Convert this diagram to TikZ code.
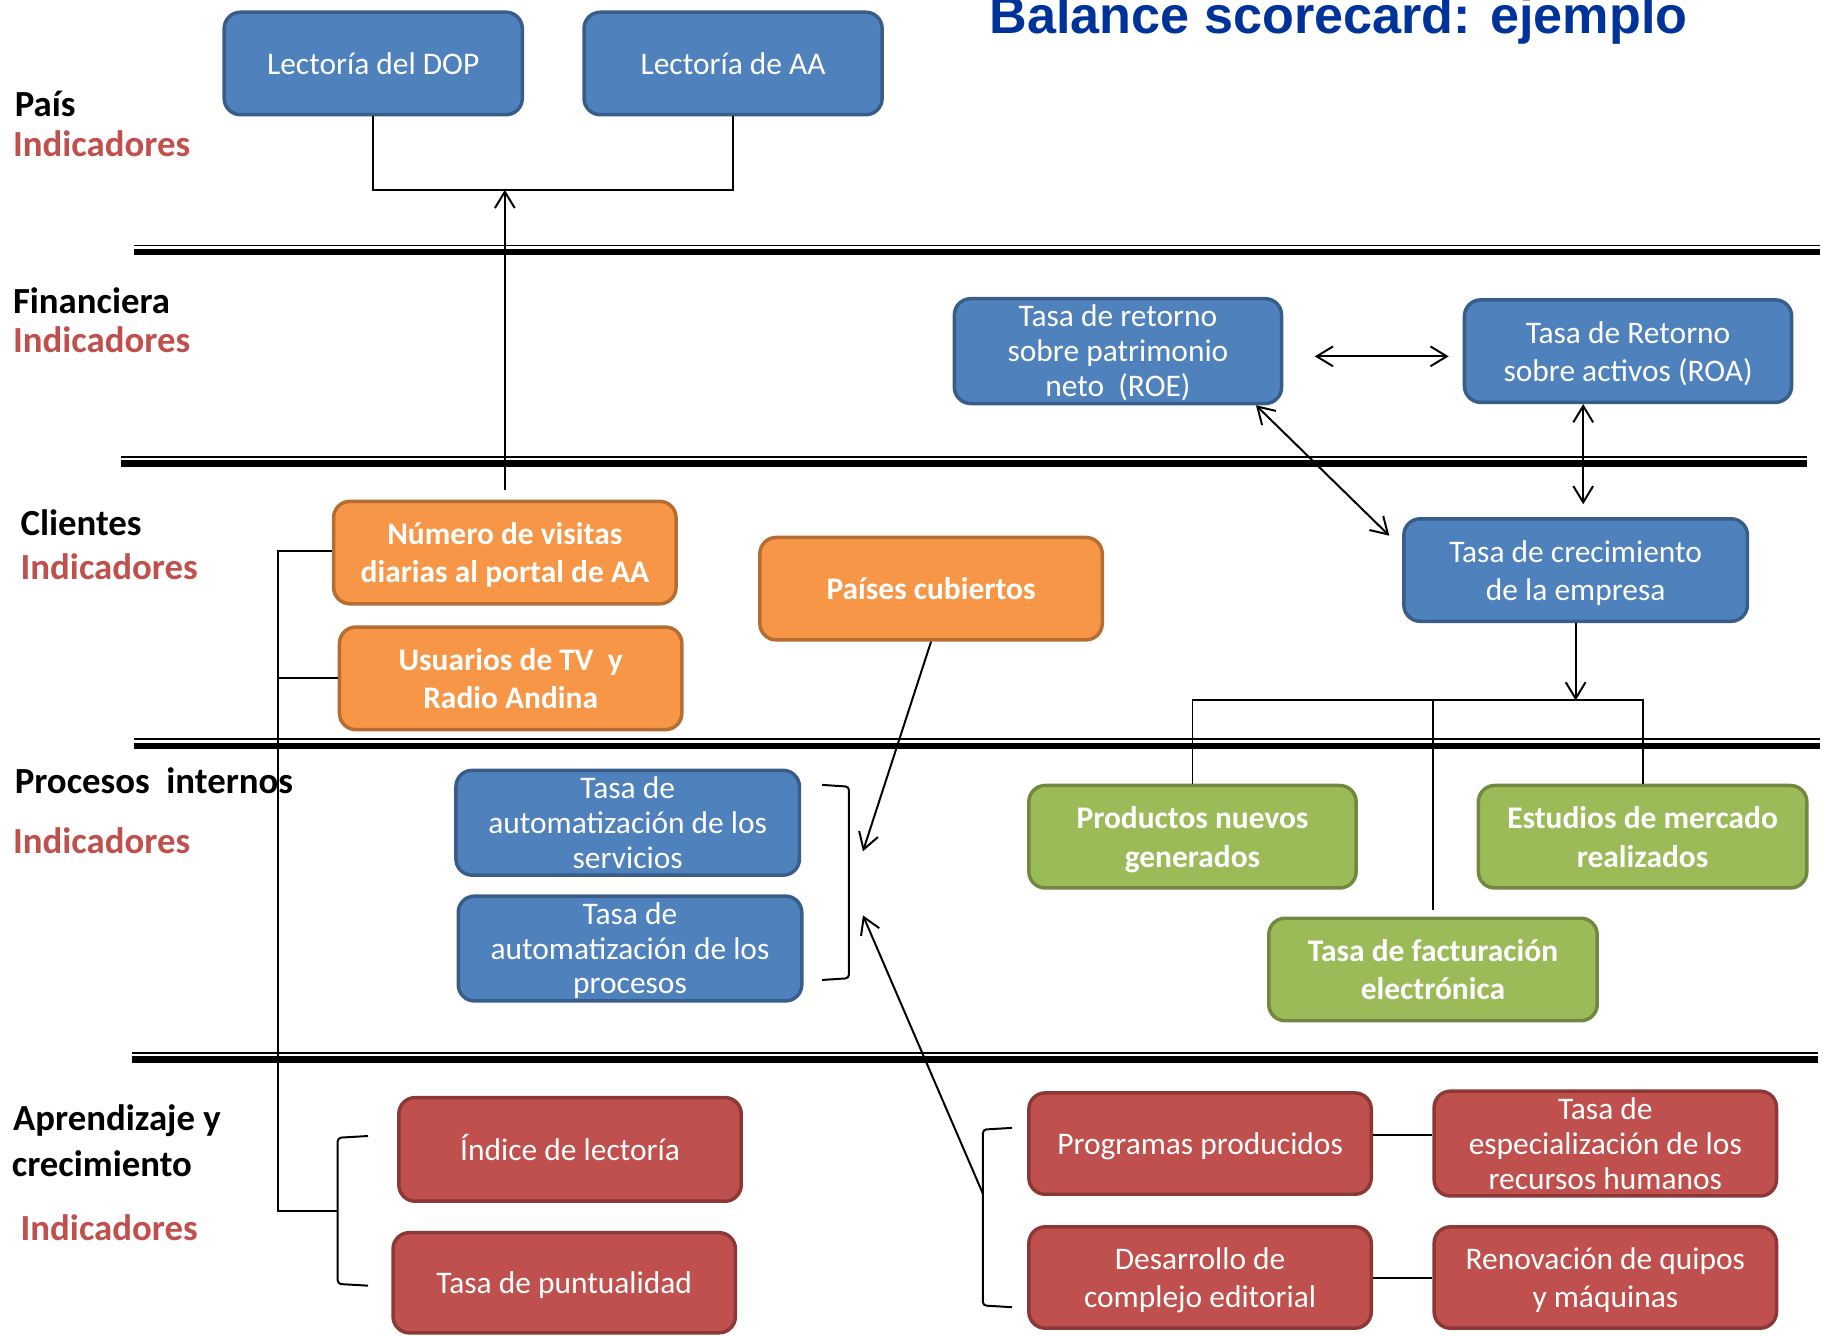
\documentclass[tikz,border=0pt]{standalone}
\usepackage{fontspec}
\setmainfont{Carlito}
\newfontfamily\titlefont{Liberation Sans}
\usetikzlibrary{arrows.meta,calc}
\definecolor{bfill}{HTML}{4F81BD}
\definecolor{bdraw}{HTML}{385D8A}
\definecolor{ofill}{HTML}{F79646}
\definecolor{odraw}{HTML}{B66D31}
\definecolor{gfill}{HTML}{9BBB59}
\definecolor{gdraw}{HTML}{71893F}
\definecolor{rfill}{HTML}{C0504D}
\definecolor{rdraw}{HTML}{8C3836}
\definecolor{titleblue}{HTML}{003399}
\definecolor{indred}{HTML}{C0504D}
\newcommand\bxt[1]{\raisebox{-3pt}[\height][\depth]{\begin{tabular}{@{}c@{}}#1\end{tabular}}}
\begin{document}
\begin{tikzpicture}[x=1pt,y=-1pt,
  box/.style={rounded corners=14pt, line width=3pt, text=white, inner sep=0pt,
              minimum height=88pt, font=\fontsize{27}{33}\selectfont},
  bluebox/.style={box, fill=bfill, draw=bdraw},
  orabox/.style={box, fill=ofill, draw=odraw, font=\bfseries\fontsize{27}{33}\selectfont},
  grebox/.style={box, fill=gfill, draw=gdraw, font=\bfseries\fontsize{27}{33}\selectfont},
  redbox/.style={box, fill=rfill, draw=rdraw},
  tri/.style={font=\fontsize{27}{30}\selectfont},
  lbl/.style={anchor=base west, inner sep=0pt, font=\bfseries\fontsize{31.6}{38}\selectfont},
  ind/.style={lbl, text=indred},
  conn/.style={line width=1.7pt, draw=black},
  arr/.style={conn, -{Straight Barb[length=14pt,width=17pt]}},
  darr/.style={conn, {Straight Barb[length=14pt,width=17pt]}-{Straight Barb[length=14pt,width=17pt]}},
  thinsep/.style={line width=1.5pt},
  thicksep/.style={line width=5.5pt}
]
\useasboundingbox (0,0) rectangle (1568,1147);
\clip (0,0) rectangle (1568,1147);

% title
\node[anchor=base, inner sep=0pt, text=titleblue, font=\titlefont\bfseries\fontsize{44.8}{54}\selectfont] (title) at (1149.5,28.5) {Balance scorecard: ejemplo};

% separators
\foreach \xa/\xb/\yy in {115/1563/210.8, 104/1552/392.3, 115/1563/634.8, 113/1561/904}{
  \draw[thinsep] (\xa,\yy) -- (\xb,\yy);
  \draw[thicksep] (\xa,\yy+5.7) -- (\xb,\yy+5.7);
}

% labels
\node[lbl] (lpais) at (12.5,100) {País};
\node[ind] (i1) at (11,134.5) {Indicadores};
\node[lbl] (lfin) at (11,269) {Financiera};
\node[ind] (i2) at (11,303) {Indicadores};
\node[lbl] (lcli) at (17.5,459.5) {Clientes};
\node[ind] (i3) at (17.5,497.5) {Indicadores};
\node[lbl] (lpro) at (12.5,681.5) {Procesos\ \ internos};
\node[ind] (i4) at (11,732.5) {Indicadores};
\node[lbl] (lapr) at (11,971) {Aprendizaje y};
\node[lbl] (lcre) at (10,1010) {crecimiento};
\node[ind] (i5) at (17.5,1065) {Indicadores};

% boxes
\node[bluebox, minimum width=256pt] (dop) at (320.5,54.5) {\bxt{Lectoría del DOP}};
\node[bluebox, minimum width=256pt] (aa) at (629.5,54.5) {\bxt{Lectoría de AA}};
\node[bluebox, tri, minimum width=281pt] (roe) at (960,301.5) {\bxt{Tasa de retorno\\sobre patrimonio\\neto\ \ (ROE)}};
\node[bluebox, minimum width=281pt] (roa) at (1398,301.5) {\bxt{Tasa de Retorno\\sobre activos (ROA)}};
\node[bluebox, minimum width=295pt] (crec) at (1353,489.5) {\bxt{Tasa de crecimiento\\de la empresa}};
\node[orabox, minimum width=294pt] (visitas) at (433.5,474.5) {\bxt{Número de visitas\\diarias al portal de AA}};
\node[orabox, minimum width=294pt] (usuarios) at (438.5,582.5) {\bxt{Usuarios de TV\ \ y\\Radio Andina}};
\node[orabox, minimum width=294pt] (paises) at (799.5,505.5) {\bxt{Países cubiertos}};
\node[bluebox, tri, minimum width=295pt] (serv) at (539,706.5) {\bxt{Tasa de\\automatización de los\\servicios}};
\node[bluebox, tri, minimum width=295pt] (proc) at (541,814.5) {\bxt{Tasa de\\automatización de los\\procesos}};
\node[grebox, minimum width=281pt] (prod) at (1024,718.5) {\bxt{Productos nuevos\\generados}};
\node[grebox, minimum width=282pt] (est) at (1410.5,718.5) {\bxt{Estudios de mercado\\realizados}};
\node[grebox, minimum width=282pt] (fact) at (1230.5,832.5) {\bxt{Tasa de facturación\\electrónica}};
\node[redbox, minimum width=294pt, minimum height=89pt] (indice) at (489.5,987) {\bxt{Índice de lectoría}};
\node[redbox, minimum width=294pt, minimum height=86pt] (punt) at (484.5,1101.5) {\bxt{Tasa de puntualidad}};
\node[redbox, minimum width=294pt, minimum height=87pt] (prog) at (1030.5,982) {\bxt{Programas producidos}};
\node[redbox, tri, minimum width=294pt, minimum height=87pt] (esp) at (1378.5,982) {\bxt{Tasa de\\especialización de los\\recursos humanos}};
\node[redbox, minimum width=294pt, minimum height=87pt] (des) at (1030.5,1097) {\bxt{Desarrollo de\\complejo editorial}};
\node[redbox, minimum width=294pt, minimum height=87pt] (ren) at (1378.5,1097) {\bxt{Renovación de quipos\\y máquinas}};

% connectors: País
\coordinate (pj) at (433.5,163);
\draw[conn] (dop.south) |- (pj) -| (aa.south);
\draw[arr] ([yshift=8pt]visitas.north) -- (pj);

% Financiera
\draw[darr] ([xshift=27pt,yshift=-4.5pt]roe.east) -- ([xshift=-12pt,yshift=-4.5pt]roa.west);
\draw[darr] ([xshift=-23.5pt]roe.south east) -- ([xshift=-11pt,yshift=-16pt]crec.north west);
\draw[darr] ($(roa.south)+(-38.5,0)$) -- ($(roa.south)+(-38.5,86)$);

% Tasa de crecimiento to green boxes
\coordinate (hbar) at (1230.5,601.5);
\draw[arr] (crec.south) -- (crec.south |- hbar);
\draw[conn] (prod.north) -- (prod.north |- hbar) -- (est.north |- hbar) -- (est.north);
\draw[conn] ([yshift=6pt]fact.north) -- (hbar);

% blue bracket and arrows
\draw[conn, rounded corners=3pt] (706,674) -- (729,675.5) -- (729,840) -- (706,841.5);
\coordinate (bA) at (741,731);
\coordinate (bB) at (741,786);
\draw[arr] (paises.south) -- (bA);
\coordinate (rb) at (844,1025);
\draw[arr] (rb) -- (bB);

% red bracket right
\draw[conn, rounded corners=3pt] (869,968.5) -- (844,970) -- (844,1121) -- (869,1122.5);
\draw[conn] ([yshift=7pt]prog.east) -- ([yshift=7pt]esp.west);
\draw[conn] (des.east) -- (ren.west);

% left tree
\coordinate (lvb) at (238.5,1039.5);
\coordinate (lbk) at (290,1039.5);
\draw[conn] ([yshift=1.5pt]visitas.west) -| (lvb) -- (lbk);
\draw[conn] (usuarios.west) -- (usuarios.west -| lvb);
\draw[conn, rounded corners=3pt] (316,975.5) -- (290,977) -- (290,1102.5) -- (316,1104);
\end{tikzpicture}
\end{document}
